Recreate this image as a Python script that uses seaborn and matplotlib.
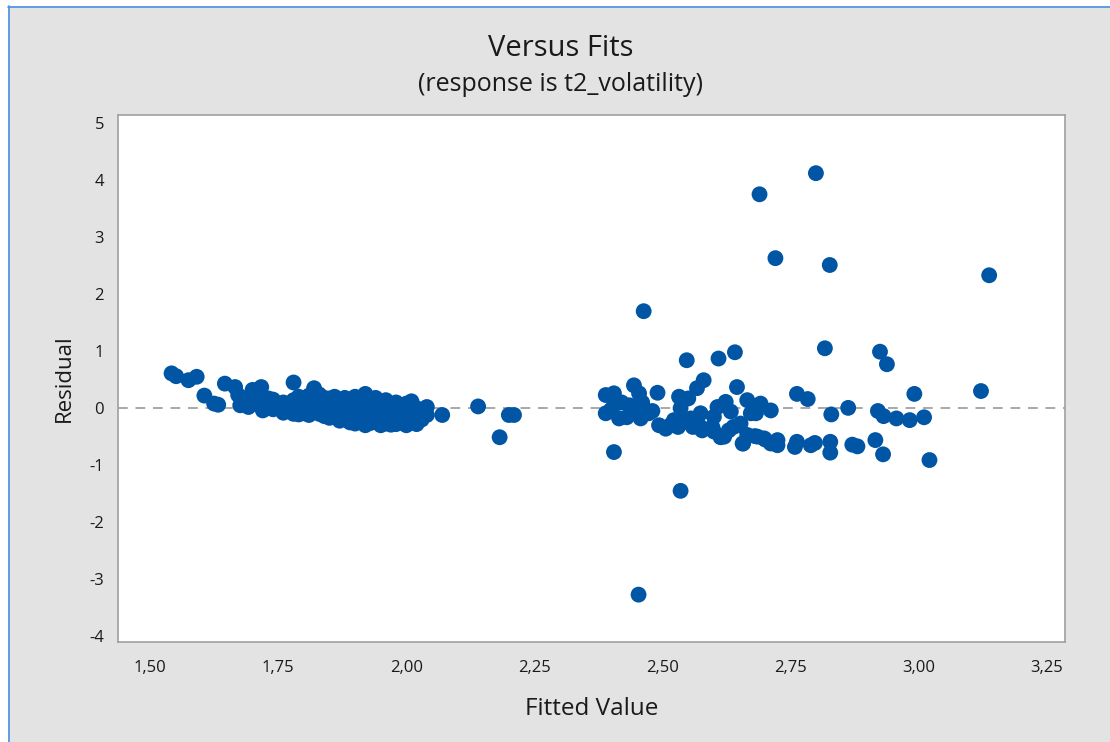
import matplotlib
matplotlib.use("Agg")
import matplotlib.pyplot as plt
from matplotlib.lines import Line2D
from matplotlib.patches import Rectangle
import numpy as np
import pandas as pd
import seaborn as sns

# Fitted values and residuals of the regression on t2_volatility
fitted_low = [
    1.542, 1.551, 1.575, 1.591, 1.606, 1.625, 1.633, 1.646, 1.666, 1.676,
    1.672, 1.686, 1.700, 1.717, 1.705, 1.692, 1.731,
]
resid_low = [
    0.61, 0.56, 0.49, 0.55, 0.22, 0.08, 0.06, 0.43, 0.37, 0.05,
    0.23, 0.17, 0.32, 0.37, 0.11, 0.02, 0.17,
]

fitted_mid = [
    1.72, 1.72, 1.72, 1.74, 1.74, 1.74, 1.76, 1.76, 1.76, 1.76,
    1.78, 1.78, 1.78, 1.78, 1.78, 1.79, 1.79, 1.79, 1.79,
    1.80, 1.80, 1.80, 1.80, 1.80, 1.81, 1.81, 1.81, 1.81,
    1.82, 1.82, 1.82, 1.82, 1.83, 1.83, 1.83, 1.83,
    1.84, 1.84, 1.84, 1.84, 1.85, 1.85, 1.85, 1.85,
    1.86, 1.86, 1.86, 1.86, 1.87, 1.87, 1.87, 1.87,
    1.88, 1.88, 1.88, 1.88, 1.89, 1.89, 1.89, 1.89,
    1.90, 1.90, 1.90, 1.90, 1.90, 1.91, 1.91, 1.91, 1.91,
    1.92, 1.92, 1.92, 1.92, 1.92, 1.93, 1.93, 1.93, 1.93,
    1.94, 1.94, 1.94, 1.94, 1.95, 1.95, 1.95, 1.95,
    1.96, 1.96, 1.96, 1.96, 1.97, 1.97, 1.97, 1.97,
    1.98, 1.98, 1.98, 1.98, 1.99, 1.99, 1.99,
    2.00, 2.00, 2.00, 2.00, 2.01, 2.01, 2.01,
    2.02, 2.02, 2.02, 2.03, 2.03, 2.04, 2.04, 2.07,
    1.765, 1.795, 1.835, 1.865, 1.895, 1.925, 1.955, 1.985, 2.015,
]
resid_mid = [
    0.12, 0.03, -0.04, 0.08, -0.02, 0.15, 0.10, 0.01, -0.08, 0.05,
    0.45, 0.14, 0.04, -0.06, -0.10, 0.20, 0.08, -0.03, -0.11,
    0.17, 0.06, -0.05, 0.12, -0.09, 0.22, 0.02, -0.12, 0.10,
    0.35, 0.15, 0.04, -0.07, 0.24, 0.08, -0.02, -0.10,
    0.12, 0.00, -0.14, 0.18, 0.17, 0.05, -0.08, -0.17,
    0.10, -0.03, -0.15, 0.20, 0.14, 0.02, -0.12, -0.22,
    0.06, -0.06, -0.18, 0.18, 0.12, -0.01, -0.14, -0.25,
    0.20, 0.08, -0.04, -0.18, -0.27, 0.15, 0.02, -0.10, -0.22,
    0.25, 0.05, -0.07, -0.20, -0.30, 0.12, -0.02, -0.15, -0.26,
    0.18, 0.04, -0.10, -0.24, 0.10, -0.05, -0.18, -0.30,
    0.14, 0.00, -0.12, -0.27, 0.06, -0.08, -0.22, -0.29,
    0.10, -0.03, -0.16, -0.28, 0.02, -0.12, -0.25,
    0.08, -0.05, -0.20, -0.30, 0.12, -0.10, -0.24,
    0.00, -0.15, -0.28, -0.05, -0.20, 0.02, -0.12, -0.12,
    -0.05, 0.01, -0.06, -0.09, -0.10, -0.12, -0.14, -0.10, -0.08,
]

fitted_high = [
    2.140, 2.182, 2.200, 2.210,
    2.389, 2.405, 2.444, 2.454, 2.490, 2.389, 2.408, 2.415, 2.430, 2.447,
    2.457, 2.473, 2.493, 2.506, 2.522, 2.532, 2.405, 2.463, 2.453, 2.535,
    2.420, 2.400, 2.435, 2.460, 2.480, 2.515, 2.540,
    2.547, 2.609, 2.641, 2.8165, 2.924, 2.9375, 3.121, 3.137, 2.689, 2.720,
    2.799, 2.826, 2.645, 2.580, 2.567, 2.550, 2.535, 2.665, 2.691, 2.711,
    2.607, 2.623, 2.633, 2.574, 2.600, 2.555, 2.574, 2.600, 2.620, 2.649,
    2.665, 2.656, 2.685, 2.700, 2.724, 2.724, 2.711, 2.682, 2.638, 2.652,
    2.613, 2.577, 2.559, 2.530, 2.629, 2.597, 2.672, 2.762, 2.783, 2.991,
    2.862, 2.829, 2.920, 2.931, 2.956, 2.982, 3.010, 3.0205, 2.930, 2.915,
    2.870, 2.880, 2.827, 2.827, 2.797, 2.789, 2.762, 2.758, 2.698, 2.680,
    2.657,
]
resid_high = [
    0.03, -0.51, -0.12, -0.12,
    0.23, 0.26, 0.40, 0.26, 0.27, -0.09, 0.08, -0.18, -0.16, 0.02,
    -0.18, -0.09, -0.30, -0.36, -0.21, 0.20, -0.77, 1.70, -3.27, -1.45,
    0.10, -0.02, 0.05, 0.10, -0.05, -0.30, -0.25,
    0.84, 0.87, 0.98, 1.05, 0.99, 0.77, 0.30, 2.33, 3.75, 2.63,
    4.12, 2.51, 0.37, 0.49, 0.35, 0.17, 0.00, 0.14, 0.08, -0.04,
    0.02, 0.11, -0.06, -0.09, -0.15, -0.18, -0.33, -0.41, -0.50, -0.30,
    -0.47, -0.62, -0.50, -0.55, -0.56, -0.65, -0.62, -0.09, -0.33, -0.27,
    -0.51, -0.39, -0.33, -0.33, -0.39, -0.33, -0.09, 0.25, 0.16, 0.25,
    0.005, -0.11, -0.05, -0.14, -0.18, -0.21, -0.16, -0.91, -0.81, -0.56,
    -0.64, -0.67, -0.59, -0.78, -0.61, -0.65, -0.59, -0.68, -0.53, -0.49,
    -0.62,
]

x_ticks = [1.50, 1.75, 2.00, 2.25, 2.50, 2.75, 3.00, 3.25]
y_ticks = [-4, -3, -2, -1, 0, 1, 2, 3, 4, 5]

df = pd.DataFrame({
    "Fitted Value": fitted_low + fitted_mid + fitted_high,
    "Residual": resid_low + resid_mid + resid_high,
})

sns.set_theme(style="white")
plt.rcParams["font.family"] = ["Open Sans", "DejaVu Sans"]

BG = "#e3e3e3"
DOT = "#0055a5"
EDGE = "#a0a0a0"
INK = "#1a1a1a"

fig = plt.figure(figsize=(11.1, 7.42), dpi=100, facecolor=BG)
ax = fig.add_axes([0.1063, 0.1348, 0.8532, 0.7102])
ax.set_facecolor("white")

sns.scatterplot(data=df, x="Fitted Value", y="Residual", ax=ax,
                color=DOT, s=130, edgecolor="none", linewidth=0, zorder=3)

ax.axhline(0, color="#a8a8a8", lw=1.4, ls=(0, (5, 4)), zorder=2)

ax.set_xlim(1.4375, 3.285)
ax.set_ylim(-4.1, 5.14)
ax.set_xticks(x_ticks)
ax.set_xticklabels([f"{v:.2f}".replace(".", ",") for v in x_ticks])
ax.set_yticks(y_ticks)
ax.set_yticklabels([str(v) for v in y_ticks])

for sp in ax.spines.values():
    sp.set_color(EDGE)
    sp.set_linewidth(1.2)

ax.tick_params(axis="both", which="major", direction="out", length=5,
               width=1.0, color=EDGE, labelsize=12, labelcolor=INK)
ax.tick_params(axis="x", pad=8)
ax.tick_params(axis="y", pad=5)
ax.set_xlabel("Fitted Value", fontsize=17.5, color=INK, labelpad=15)
ax.set_ylabel("Residual", fontsize=16, color=INK, labelpad=10)

fig.text(0.505, 0.934, "Versus Fits", ha="center", va="center",
         fontsize=21, color=INK)
fig.text(0.505, 0.886, "(response is t2_volatility)", ha="center", va="center",
         fontsize=18, color=INK)

# window frame around the panel
fig.patches.append(Rectangle((0, 1 - 6 / 742), 1, 6 / 742, transform=fig.transFigure,
                             facecolor="white", edgecolor="none", zorder=0))
fig.patches.append(Rectangle((0, 0), 8 / 1110, 1, transform=fig.transFigure,
                             facecolor="white", edgecolor="none", zorder=0))
fig.lines.append(Line2D([8 / 1110, 1], [1 - 6.5 / 742, 1 - 6.5 / 742],
                        transform=fig.transFigure, color="#4a90e2", lw=1.2))
fig.lines.append(Line2D([8.5 / 1110, 8.5 / 1110], [0, 1 - 6 / 742],
                        transform=fig.transFigure, color="#4a90e2", lw=1.2))

fig.savefig("out.png", dpi=100, facecolor=BG)
